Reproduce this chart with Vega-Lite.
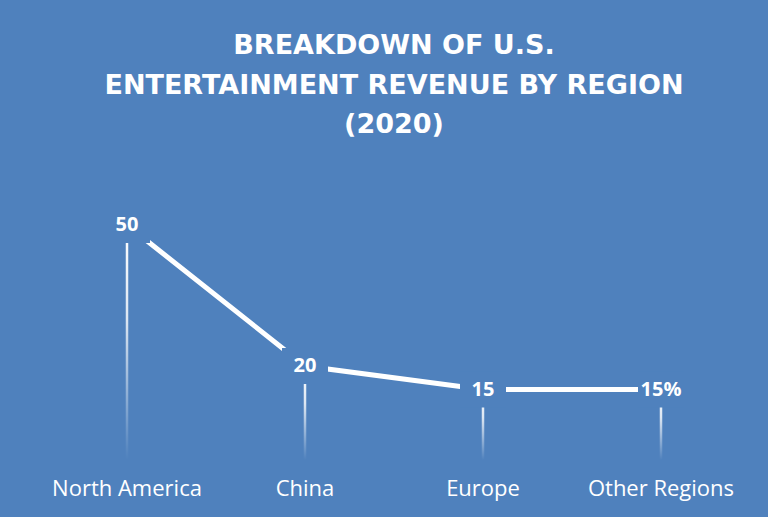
{
  "$schema": "https://vega.github.io/schema/vega-lite/v6.json",
  "width": 712,
  "height": 282,
  "autosize": "none",
  "padding": {"left": 38, "top": 178, "right": 18, "bottom": 57},
  "background": "#4F81BD",
  "title": {
    "text": ["BREAKDOWN OF U.S.", "ENTERTAINMENT REVENUE BY REGION", "(2020)"],
    "color": "#FFFFFF",
    "font": "DejaVu Sans",
    "fontSize": 27,
    "fontWeight": "bold",
    "lineHeight": 39.5,
    "anchor": "middle",
    "frame": "group",
    "offset": 39
  },
  "config": {"view": {"stroke": null}},
  "data": {
    "values": [
      {"region": "North America", "value": 50, "label": "50"},
      {"region": "China", "value": 20, "label": "20"},
      {"region": "Europe", "value": 15, "label": "15"},
      {"region": "Other Regions", "value": 15, "label": "15%"}
    ]
  },
  "encoding": {
    "x": {
      "field": "region",
      "type": "nominal",
      "sort": null,
      "scale": {"type": "band", "paddingInner": 0, "paddingOuter": 0},
      "axis": {
        "title": null,
        "domain": false,
        "ticks": false,
        "labelAngle": 0,
        "labelColor": "#FFFFFF",
        "labelFont": "Open Sans",
        "labelFontSize": 22,
        "labelPadding": 18
      }
    }
  },
  "layer": [
    {
      "mark": {
        "type": "bar",
        "width": 2.5,
        "fill": {
          "gradient": "linear",
          "x1": 0, "y1": 0, "x2": 0, "y2": 1,
          "stops": [
            {"offset": 0, "color": "rgba(255,255,255,1)"},
            {"offset": 0.4, "color": "rgba(255,255,255,0.8)"},
            {"offset": 1, "color": "rgba(255,255,255,0)"}
          ]
        }
      },
      "encoding": {
        "y": {"field": "value", "type": "quantitative", "scale": {"domain": [0, 60]}, "axis": null},
        "y2": {"datum": 0}
      }
    },
    {
      "mark": {"type": "line", "color": "#FFFFFF", "strokeWidth": 5},
      "encoding": {
        "y": {"field": "value", "type": "quantitative"}
      }
    },
    {
      "mark": {
        "type": "point",
        "shape": "M-1,-0.78H1V0.78H-1Z",
        "filled": true,
        "fill": "#4F81BD",
        "stroke": null,
        "opacity": 1,
        "size": 2116
      },
      "encoding": {
        "y": {"field": "value", "type": "quantitative"}
      }
    },
    {
      "mark": {
        "type": "text",
        "color": "#FFFFFF",
        "font": "Open Sans",
        "fontSize": 20,
        "fontWeight": "bold",
        "baseline": "middle",
        "align": "center"
      },
      "encoding": {
        "y": {"field": "value", "type": "quantitative"},
        "text": {"field": "label"}
      }
    }
  ]
}
